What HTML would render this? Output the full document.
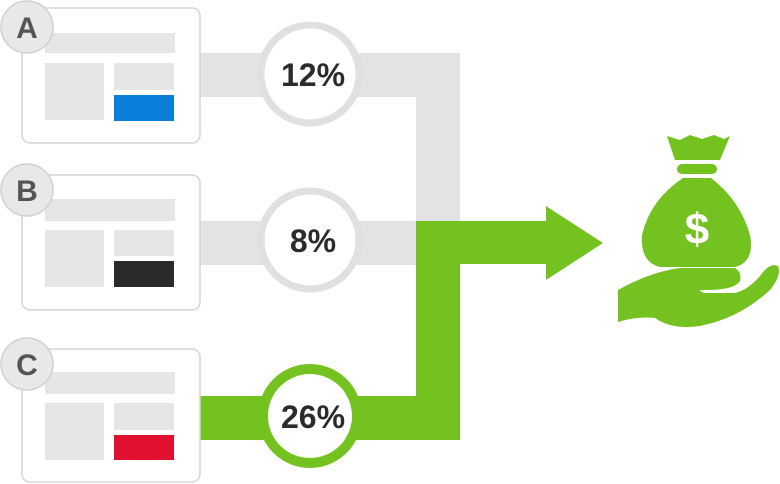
<!DOCTYPE html>
<html><head><meta charset="utf-8"><style>
html,body{margin:0;padding:0;background:#fff}
svg{display:block}
text{font-family:"Liberation Sans",sans-serif;font-weight:bold}
</style></head><body>
<svg width="780" height="484" viewBox="0 0 780 484" xmlns="http://www.w3.org/2000/svg">
<rect x="200" y="53" width="260" height="44" fill="#e3e3e3"/>
<rect x="416" y="53" width="44" height="168" fill="#e3e3e3"/>
<rect x="200" y="221" width="216" height="44" fill="#e3e3e3"/>
<path d="M200 396 H416 V221 H546 V206 L603 243 L546 280 V264 H460 V440 H200 Z" fill="#74c21f"/>
<g fill="#fff" stroke="#d4d4d4" stroke-width="1.5">
<rect x="22" y="8" width="178" height="135" rx="8"/>
<rect x="22" y="175" width="178" height="135" rx="8"/>
<rect x="22" y="349" width="178" height="133" rx="8"/>
</g>
<g fill="#e6e6e6">
<rect x="45" y="33" width="130" height="20"/><rect x="45" y="63" width="59" height="57"/><rect x="114" y="63" width="60" height="27"/>
<rect x="45" y="199" width="130" height="22"/><rect x="45" y="230" width="59" height="57"/><rect x="114" y="230" width="60" height="26"/>
<rect x="45" y="372" width="130" height="22"/><rect x="45" y="403" width="59" height="57"/><rect x="114" y="403" width="60" height="27"/>
</g>
<rect x="114" y="95" width="60" height="26" fill="#0a7fd9"/>
<rect x="114" y="261" width="60" height="26" fill="#2a2a2a"/>
<rect x="114" y="435" width="60" height="25" fill="#e0102e"/>
<g fill="#e8e8e8" stroke="#d0d0d0" stroke-width="1.5">
<circle cx="27" cy="27" r="26"/><circle cx="27" cy="190" r="26"/><circle cx="27" cy="364" r="26"/>
</g>
<g fill="#555" font-size="30" text-anchor="middle">
<text x="27" y="38">A</text><text x="27" y="201">B</text><text x="27" y="375">C</text>
</g>
<circle cx="310" cy="74" r="49" fill="#fff" stroke="#e0e0e0" stroke-width="7"/>
<circle cx="310" cy="240" r="49" fill="#fff" stroke="#e0e0e0" stroke-width="7"/>
<circle cx="310" cy="416" r="47" fill="#fff" stroke="#74c21f" stroke-width="10"/>
<g fill="#2b2b2b" font-size="32" text-anchor="middle">
<text x="313" y="86">12%</text><text x="313" y="252">8%</text><text x="313" y="428">26%</text>
</g>
<g fill="#74c21f">
<path d="M667 136 L680 140 L690 135 L702 139 L714 135 L724 139 L730 136 L720 160 L675 160 Z"/>
<rect x="677" y="164" width="40" height="10" rx="5"/>
<path d="M683 178 H711 Q740 200 750 235 Q755 262 735 267 H660 Q640 262 642 235 Q650 200 683 178 Z"/>
<path d="M618 290 Q650 272 680 268 H735 Q742 272 740 281 Q735 290 705 290 H700 Q700 292 705 293 H735 Q748 290 760 276 Q770 262 778 266 Q782 275 770 290 Q740 318 700 326 Q672 330 655 318 Q638 316 618 322 Z"/>
</g>
<text x="697" y="244" font-size="44" fill="#fff" text-anchor="middle" font-weight="normal">$</text>
</svg>
</body></html>
